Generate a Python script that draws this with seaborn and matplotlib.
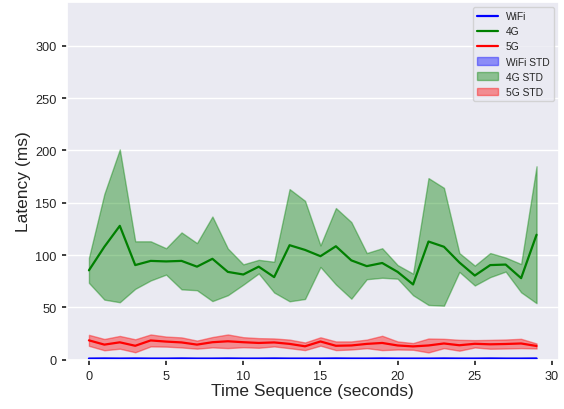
import numpy as np
import pandas as pd
import matplotlib
matplotlib.use("Agg")
import matplotlib.pyplot as plt
import seaborn as sns

time_seq = list(range(30))

wifi_mean = [1.2, 1.3, 1.2, 1.3, 1.2, 1.2, 1.3, 1.2, 1.2, 1.3, 1.2, 1.2, 1.3, 1.2, 1.2,
             1.2, 1.3, 1.2, 1.2, 1.3, 1.2, 1.2, 1.2, 1.3, 1.2, 1.2, 1.3, 1.2, 1.2, 1.3]
wifi_std = [0.3, 0.3, 0.4, 0.3, 0.3, 0.3, 0.4, 0.3, 0.3, 0.3, 0.3, 0.4, 0.3, 0.3, 0.3,
            0.3, 0.3, 0.4, 0.3, 0.3, 0.3, 0.3, 0.3, 0.3, 0.4, 0.3, 0.3, 0.3, 0.3, 0.3]

lte_mean = [85.5, 108, 128, 90.5, 94.5, 94, 94.5, 89, 96.5, 84, 81.5, 89, 79, 109.5, 105,
            99, 108.5, 95, 89.5, 92.5, 84, 72, 113, 108, 93, 80.5, 90.5, 91, 78, 119.5]
lte_std = [12, 50.5, 73, 22.7, 18.7, 12.6, 27.2, 22.5, 40.4, 22.3, 9.7, 6.5, 14.7, 53.6, 46.9,
           10.3, 36.5, 36.6, 12.5, 14.1, 6.5, 10.3, 60.6, 56.3, 9, 9.5, 11.5, 6.7, 13.5, 65.4]

nr_mean = [18.6, 14.5, 16.7, 13.4, 18.5, 17.4, 16.6, 14.5, 16.8, 17.7, 16.8, 16.1, 16.6, 15.2, 12.9,
           17.5, 13.4, 13.7, 15.2, 16.1, 13.7, 12.8, 13.7, 15.6, 13.9, 15.3, 14.8, 15.1, 15.6, 13.2]
nr_std = [5.25, 5.4, 6.1, 6.2, 5.7, 4.8, 4.8, 3.85, 4.95, 6.5, 4.8, 4.6, 3.8, 4.1, 3.65,
          4.0, 4.15, 3.85, 4.1, 6.85, 3.85, 3.2, 6.65, 4.45, 5.2, 3.5, 4.25, 4.3, 4.45, 2.4]

series = [("WiFi", wifi_mean, wifi_std, "blue"),
          ("4G", lte_mean, lte_std, "green"),
          ("5G", nr_mean, nr_std, "red")]

sns.set_theme(style="darkgrid", rc={"xtick.bottom": True, "ytick.left": True,
                                    "xtick.major.size": 3.5, "ytick.major.size": 3.5})
plt.rcParams['font.family'] = ['Liberation Sans', 'DejaVu Sans']

fig, ax = plt.subplots(figsize=(5.64, 4.10), dpi=100)
fig.subplots_adjust(left=0.118, right=0.991, bottom=0.12, top=0.993)

for name, m, s, c in series:
    df = pd.DataFrame({"t": time_seq, "v": m})
    sns.lineplot(data=df, x="t", y="v", color=c, linewidth=1.6, label=name, ax=ax)

for name, m, s, c in series:
    m_arr = np.array(m)
    s_arr = np.array(s)
    ax.fill_between(time_seq, m_arr - s_arr, m_arr + s_arr, color=c, alpha=0.4,
                    label=f"{name} STD")

ax.set_ylim(0, 342)
ax.set_xticks([0, 5, 10, 15, 20, 25, 30])
ax.set_yticks([0, 50, 100, 150, 200, 250, 300])
ax.xaxis.grid(False)
ax.tick_params(labelsize=9.2, colors="#262626", length=3.5)
ax.set_xlabel("Time Sequence (seconds)", fontsize=12.5, labelpad=1)
ax.set_ylabel("Latency (ms)", fontsize=12.5, labelpad=3)
ax.legend(loc="upper right", fontsize=7.4, frameon=True)

fig.savefig("out.png", dpi=100)
